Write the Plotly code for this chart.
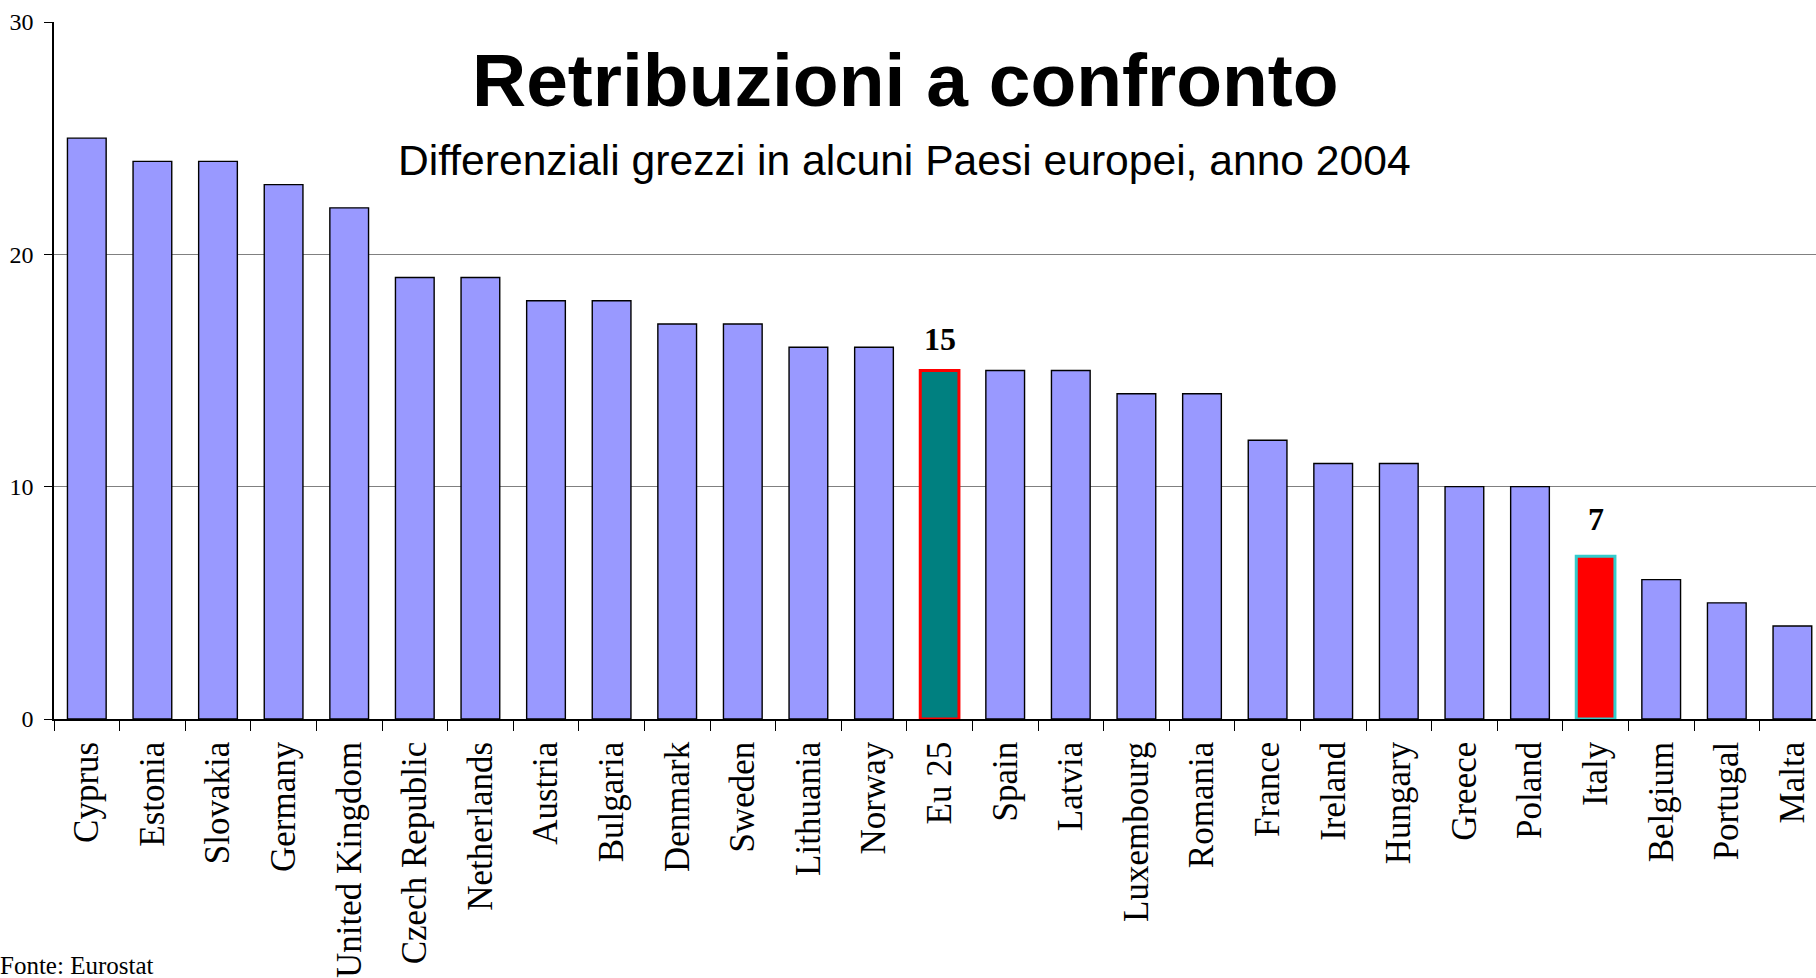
import plotly.graph_objects as go

countries = ["Cyprus", "Estonia", "Slovakia", "Germany", "United Kingdom", "Czech Republic",
             "Netherlands", "Austria", "Bulgaria", "Denmark", "Sweden", "Lithuania", "Norway",
             "Eu 25", "Spain", "Latvia", "Luxembourg", "Romania", "France", "Ireland",
             "Hungary", "Greece", "Poland", "Italy", "Belgium", "Portugal", "Malta"]
values = [25, 24, 24, 23, 22, 19, 19, 18, 18, 17, 17, 16, 16, 15, 15, 15, 14, 14, 12, 11,
          11, 10, 10, 7, 6, 5, 4]
highlight_labels = {"Eu 25": "15", "Italy": "7"}

W, H = 1816, 978
ML, MR, MT, MB = 54, 0, 22, 257
PW, PH = W - ML - MR, H - MT - MB


def px_x(px):
    return (px - ML) / PW


def px_y(py):
    return (H - MB - py) / PH


fills, lines, lwidths = [], [], []
for c in countries:
    if c == "Eu 25":
        fills.append("#008080"); lines.append("#FF0000"); lwidths.append(3)
    elif c == "Italy":
        fills.append("#FF0000"); lines.append("#33CCCC"); lwidths.append(3)
    else:
        fills.append("#9999FF"); lines.append("#000000"); lwidths.append(1.4)

fig = go.Figure()
fig.add_trace(go.Bar(
    x=countries, y=values, width=0.59,
    marker=dict(color=fills, line=dict(color=lines, width=lwidths)),
    hoverinfo="x+y",
))

annotations = []
shifts = {"Eu 25": 12, "Italy": 17}
for c, v in zip(countries, values):
    if c in highlight_labels:
        annotations.append(dict(
            x=c, y=v, xref="x", yref="y", text="<b>" + highlight_labels[c] + "</b>",
            showarrow=False, yanchor="bottom", yshift=shifts[c],
            font=dict(family="Liberation Serif", size=32, color="#000000"),
        ))

annotations.append(dict(
    x=px_x(905), y=px_y(80), xref="paper", yref="paper", xanchor="center", yanchor="middle",
    text="<b>Retribuzioni a confronto</b>", showarrow=False,
    font=dict(family="Liberation Sans", size=75, color="#000000"),
))
annotations.append(dict(
    x=px_x(904), y=px_y(160), xref="paper", yref="paper", xanchor="center", yanchor="middle",
    text="Differenziali grezzi in alcuni Paesi europei, anno 2004", showarrow=False,
    font=dict(family="Liberation Sans", size=42.6, color="#000000"),
))
annotations.append(dict(
    x=px_x(-1), y=px_y(983), xref="paper", yref="paper", xanchor="left", yanchor="bottom",
    text="Fonte: Eurostat", showarrow=False, borderpad=0,
    font=dict(family="Liberation Serif", size=25, color="#000000"),
))

fig.update_layout(
    width=W, height=H,
    margin=dict(l=ML, r=MR, t=MT, b=MB, pad=0),
    paper_bgcolor="white", plot_bgcolor="white",
    showlegend=False,
    annotations=annotations,
    bargap=0.41,
)
fig.update_xaxes(
    type="category", range=[-0.5, -0.5 + PW / 65.6],
    showline=True, linecolor="#000000", linewidth=1.5,
    ticks="outside", tickson="boundaries", ticklen=10, tickcolor="#000000", tickwidth=1.3,
    tickangle=-90, ticklabelstandoff=7,
    tickfont=dict(family="Liberation Serif", size=35, color="#000000"),
    showgrid=False,
)
fig.update_yaxes(
    range=[0, 30], tickvals=[0, 10, 20, 30],
    showline=True, linecolor="#000000", linewidth=1.5,
    ticks="outside", ticklen=8, tickcolor="#000000", tickwidth=1.3,
    ticklabelstandoff=6,
    tickfont=dict(family="Liberation Serif", size=24, color="#000000"),
    showgrid=True, gridcolor="#808080", gridwidth=1.3,
    zeroline=False,
)

fig.write_html(
    "out.html",
    config={"displayModeBar": False},
    post_script="document.body.style.margin='0';document.body.style.overflow='hidden';",
)
